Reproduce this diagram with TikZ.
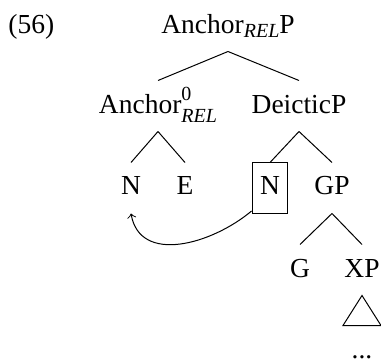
\documentclass[tikz,border=0pt]{standalone}
\usepackage{fontspec}
\setmainfont{Liberation Serif}
\newcommand{\subs}[1]{\raisebox{-1.6pt}{\fontsize{8}{9}\selectfont\itshape #1}}
\tikzset{
  tn/.style={anchor=base,font=\fontsize{11}{13}\selectfont,text height=9.6pt,text depth=4pt,inner sep=3.2pt},
  exnum/.style={anchor=base west,font=\fontsize{11}{13}\selectfont,inner sep=0pt}
}
\begin{document}
\begin{tikzpicture}[x=0.4pt,y=-0.4pt,>=to]

\useasboundingbox (0,0) rectangle (381,360);

% The example number
\node[exnum] (ex) at (8,33) {(56)};

% The tree nodes
\node[tn] (root) at (228,33) {Anchor\subs{REL}P};
\node[tn] (anc) at (158,113) {Anchor\rlap{\raisebox{5pt}{\fontsize{8}{9}\selectfont 0}}\raisebox{-3.6pt}{\fontsize{8}{9}\selectfont\itshape REL}};
\node[tn] (deic) at (299,113) {DeicticP};
\node[tn] (n1) at (131,195) {N};
\node[tn] (e) at (185,195) {E};
\node[tn,draw] (n2) at (270,195) {N};
\node[tn] (gp) at (332,195) {GP};
\node[tn] (g) at (300,277) {G};
\node[tn] (xp) at (362,277) {XP};
\node[tn] (dots) at (362,358) {...};

% The branches
\foreach \a/\b in {root/anc,root/deic,anc/n1,anc/e,deic/n2,deic/gp,gp/g,gp/xp}
	\draw (\a.south) -- (\b.north);

% The triangle
\draw (xp.south) -- ([xshift=-7.6pt]dots.north) -- ([xshift=7.6pt]dots.north) -- cycle;

% The movement
\draw[->] ([yshift=1pt]n2.south west) to[out=-140,in=-80,looseness=1.1] (n1.south);

\end{tikzpicture}
\end{document}
